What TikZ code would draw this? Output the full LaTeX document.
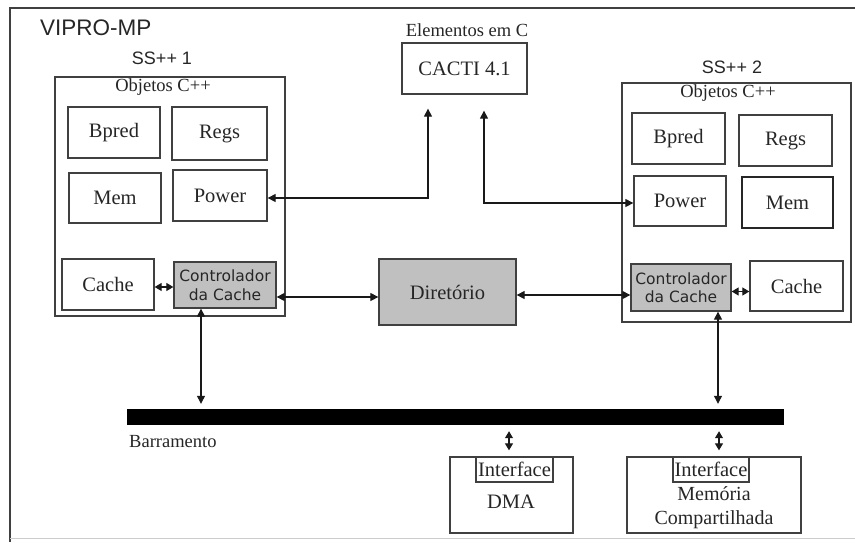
\documentclass[tikz,border=0pt]{standalone}
\usepackage{fontspec}
\setmainfont{Liberation Serif}
\newfontfamily\headfont{Liberation Sans}
\newfontfamily\ctrlfont{DejaVu Sans}
\usetikzlibrary{arrows.meta,calc}
\definecolor{edge}{HTML}{404040}
\definecolor{shade}{HTML}{C0C0C0}
\begin{document}
\begin{tikzpicture}[x=1pt,y=-1pt,
  % a rectangle given by its two corners (x1,y1,x2,y2)
  span/.style n args={4}{at={({(#1+#3)/2},{(#2+#4)/2})},
    minimum width={(#3-#1)*1pt}, minimum height={(#4-#2)*1pt}},
  box/.style={draw=edge, line width=1.3pt, inner sep=0pt, rectangle,
    font=\fontsize{20.5}{24}\selectfont, text=black!85},
  shadebox/.style={box, fill=shade},
  ctrl/.style={shadebox, font=\ctrlfont\fontsize{15.5}{18.5}\selectfont, align=center},
  lbl/.style={inner sep=0pt, font=\fontsize{18.5}{22}\selectfont, text=black!85},
  head/.style={inner sep=0pt, font=\headfont\fontsize{18}{22}\selectfont, text=black!85},
  arr/.style={draw=black!90, line width=1.2pt,
    {Triangle[length=8pt,width=8pt]}-{Triangle[length=8pt,width=8pt]}},
  arrs/.style={draw=black!90, line width=1.2pt,
    {Triangle[length=7pt,width=8pt]}-{Triangle[length=7pt,width=8pt]}},
]
\useasboundingbox (0,0) rectangle (855,542);

% outer frame
\draw[edge, line width=1.4pt] (855,8) -- (10,8) -- (10,542);
\draw[black!20, line width=1pt] (10,538) -- (855,538);

\node[head, anchor=west, font=\headfont\fontsize{22.5}{26}\selectfont] (title) at (40,28) {VIPRO-MP};

% C elements
\node[lbl] (elemc) at (467,30) {Elementos em C};
\node[box, span={402}{43}{527}{94}] (cacti) {CACTI 4.1};

% simulator 1
\node[head] (ss1) at (162,58) {SS++ 1};
\node[box, line width=1.1pt, span={55}{77}{285}{316}] (sim1) {};
\node[lbl] (obj1) at (163,87) {Objetos C++};
\node[box, span={68}{107}{160}{158}] (bpred1) {Bpred};
\node[box, span={172}{107}{267}{160}] (regs1) {Regs};
\node[box, span={69}{173}{161}{223}] (mem1) {Mem};
\node[box, span={173}{170}{267}{221}] (power1) {Power};
\node[box, span={62}{259}{154}{310}] (cache1) {Cache};
\node[ctrl, span={174}{262}{276}{308}] (ctrl1) {Controlador\\da Cache};

% simulator 2
\node[head] (ss2) at (732,67) {SS++ 2};
\node[box, line width=1.1pt, span={622}{83}{851}{322}] (sim2) {};
\node[lbl] (obj2) at (728,93) {Objetos C++};
\node[box, span={632}{113}{725}{164}] (bpred2) {Bpred};
\node[box, span={739}{115}{832}{166}] (regs2) {Regs};
\node[box, span={634}{176}{726}{226}] (power2) {Power};
\node[box, line width=1.9pt, draw=black!85, span={742}{177}{833}{228}] (mem2) {Mem};
\node[ctrl, span={631}{264}{731}{311}] (ctrl2) {Controlador\\da Cache};
\node[box, span={750}{261}{843}{311}] (cache2) {Cache};

% directory
\node[shadebox, span={379}{259}{516}{325}] (dir) {Diretório};

% bus
\node[fill=black, inner sep=0pt, span={127}{409}{784}{425}] (bus) {};
\node[lbl, anchor=west] (busl) at (129,442) {Barramento};

% peripherals
\node[box, span={450}{457}{573}{533}] (dma) {};
\node[box, span={476}{457}{553}{482}] (if1) {Interface};
\node[lbl, font=\fontsize{20.5}{22}\selectfont] (dmal) at (511,502) {DMA};
\node[box, span={627}{457}{801}{533}] (shm) {};
\node[box, span={673}{457}{749}{482}] (if2) {Interface};
\node[lbl, align=center, font=\fontsize{20}{24}\selectfont] (shml) at (714,508) {Memória\\Compartilhada};

% connectors
\draw[arr, shorten >=14pt] ([yshift=-2.5pt]power1.east) -| ([xshift=-36.5pt]cacti.south);
\draw[arr, shorten <=16pt] ([xshift=19.5pt]cacti.south) |- ([yshift=-2pt]power2.west);
\draw[arrs] ([yshift=-2.5pt]cache1.east) -- ([yshift=-2.5pt]cache1.east -| ctrl1.west);
\draw[arrs] ([yshift=-4pt]ctrl2.east) -- ([yshift=-4pt]ctrl2.east -| cache2.west);
\draw[arr] ([yshift=-12pt]ctrl1.east) -- ([yshift=-12pt]ctrl1.east -| dir.west);
\draw[arr] ([yshift=-3pt]dir.east) -- ([yshift=-3pt]dir.east -| ctrl2.west);
\draw[arr, shorten >=5pt] ([xshift=-24pt]ctrl1.south) -- ([xshift=-24pt]ctrl1.south |- bus.north);
\draw[arr, shorten >=5pt] ([xshift=37pt]ctrl2.south) -- ([xshift=37pt]ctrl2.south |- bus.north);
\draw[arrs, shorten <=6pt, shorten >=6pt] ([xshift=-2.5pt]dma.north) -- ([xshift=-2.5pt]dma.north |- bus.south);
\draw[arrs, shorten <=6pt, shorten >=6pt] ([xshift=5pt]shm.north) -- ([xshift=5pt]shm.north |- bus.south);
\end{tikzpicture}
\end{document}
